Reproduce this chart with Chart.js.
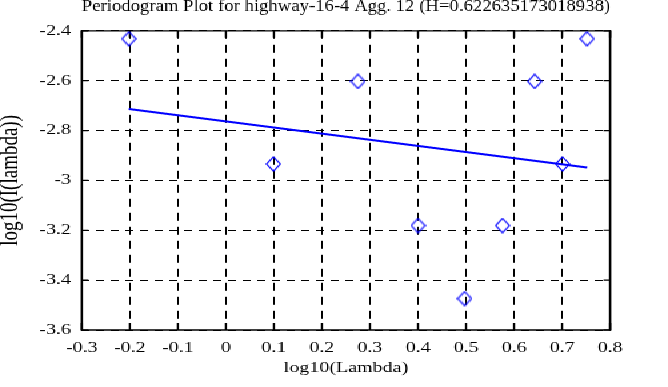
<!DOCTYPE html>
<html>
<head>
<meta charset="utf-8">
<script src="https://cdn.jsdelivr.net/npm/chart.js@4"></script>
<style>
  body { margin: 0; background: #fff; overflow: hidden; }
  /* the reference is a plot stretched sideways, so draw narrow and stretch */
  #wrap { width: 501px; height: 387px; transform: scaleX(1.33333); transform-origin: 0 0; }
  #chart { image-rendering: pixelated; }
</style>
</head>
<body>
<div id="wrap"><canvas id="chart" width="501" height="387"></canvas></div>
<script>
const titleText = 'Periodogram Plot for highway-16-4 Agg. 12 (H=0.622635173018938)'
const xTicks = [-0.3, -0.2, -0.1, 0, 0.1, 0.2, 0.3, 0.4, 0.5, 0.6, 0.7, 0.8]
const yTicks = [-3.6, -3.4, -3.2, -3, -2.8, -2.6, -2.4]

// log10(Lambda) and log10(I(lambda))
const lambdaLog = [-0.202, 0.099, 0.275, 0.400, 0.497, 0.576, 0.643, 0.701, 0.752]
const periodLog = [-2.432, -2.934, -2.603, -3.181, -3.474, -3.181, -2.603, -2.934, -2.432]

// fitted line ends
const fitX = [-0.202, 0.752]
const fitY = [-2.714, -2.948]

const blue = '#0000ff'
const serif = 'Liberation Serif'

// diamond marker, narrow because the canvas gets stretched
const marker = document.createElement('canvas')
marker.width = 12
marker.height = 16
let mctx = marker.getContext('2d')
mctx.strokeStyle = blue
mctx.lineWidth = 1.15
mctx.beginPath()
mctx.moveTo(6, 1)
mctx.lineTo(11.2, 8)
mctx.lineTo(6, 15)
mctx.lineTo(0.8, 8)
mctx.closePath()
mctx.stroke()

// frame and inward tick marks on all four sides
const frame = {
    id: 'frame',
    beforeDatasetsDraw(chart) {
        const { ctx, chartArea: a, scales: { x, y } } = chart
        ctx.save()
        ctx.strokeStyle = '#000'
        ctx.lineWidth = 1.4
        xTicks.forEach(function (v) {
            let px = x.getPixelForValue(v)
            ctx.beginPath()
            ctx.moveTo(px, a.bottom)
            ctx.lineTo(px, a.bottom - 7)
            ctx.moveTo(px, a.top)
            ctx.lineTo(px, a.top + 7)
            ctx.stroke()
        })
        ctx.lineWidth = 1.2
        yTicks.forEach(function (v) {
            let py = y.getPixelForValue(v)
            ctx.beginPath()
            ctx.moveTo(a.left, py)
            ctx.lineTo(a.left + 5, py)
            ctx.moveTo(a.right, py)
            ctx.lineTo(a.right - 5, py)
            ctx.stroke()
        })
        ctx.lineWidth = 1.3
        ctx.beginPath()
        ctx.moveTo(a.left, a.top)
        ctx.lineTo(a.right, a.top)
        ctx.moveTo(a.left, a.bottom)
        ctx.lineTo(a.right, a.bottom)
        ctx.stroke()
        ctx.lineWidth = 1.6
        ctx.beginPath()
        ctx.moveTo(a.left, a.top - 0.65)
        ctx.lineTo(a.left, a.bottom + 0.65)
        ctx.moveTo(a.right, a.top - 0.65)
        ctx.lineTo(a.right, a.bottom + 0.65)
        ctx.stroke()
        ctx.restore()
    }
}

function label(v) {
    return String(Number(v.toFixed(1)))
}

const ctx = document.getElementById('chart').getContext('2d')
let myChart = new Chart(ctx, {
    data: {
        datasets: [{
            type: 'scatter',
            data: lambdaLog.map((v, i) => ({ x: v, y: periodLog[i] })),
            pointStyle: marker,
            pointRadius: 7
        }, {
            type: 'line',
            data: fitX.map((v, i) => ({ x: v, y: fitY[i] })),
            borderColor: blue,
            borderWidth: 2,
            pointRadius: 0,
            fill: false
        }]
    },
    options: {
        responsive: false,
        animation: false,
        devicePixelRatio: 1,
        layout: { padding: { left: 0, right: 43.4, top: 0, bottom: 0 } },
        plugins: {
            legend: { display: false },
            tooltip: { enabled: false },
            title: {
                display: true,
                text: titleText,
                color: '#000',
                fullSize: false,
                font: { family: serif, size: 16, weight: 'normal', lineHeight: 0.8 },
                padding: { top: 0, bottom: 18 }
            }
        },
        scales: {
            x: {
                type: 'linear',
                min: -0.3,
                max: 0.8,
                afterBuildTicks: s => { s.ticks = xTicks.map(v => ({ value: v })) },
                afterFit: s => { s.height = 57 },
                grid: { color: '#000', lineWidth: 1, drawTicks: false },
                border: { display: false, dash: [8, 6] },
                ticks: { color: '#000', padding: 9, font: { family: serif, size: 15 }, callback: label },
                title: {
                    display: true,
                    text: 'log10(Lambda)',
                    color: '#000',
                    font: { family: serif, size: 15 },
                    padding: { top: 0, bottom: 10 }
                }
            },
            y: {
                type: 'linear',
                min: -3.6,
                max: -2.4,
                afterBuildTicks: s => { s.ticks = yTicks.map(v => ({ value: v })) },
                afterFit: s => { s.width = 61.35 },
                grid: { color: '#000', lineWidth: 1, drawTicks: false },
                border: { display: false, dash: [6, 5] },
                ticks: { color: '#000', padding: 8, font: { family: serif, size: 15 }, callback: label },
                title: {
                    display: true,
                    text: 'log10(I(lambda))',
                    color: '#000',
                    font: { family: serif, size: 19, lineHeight: 1 },
                    padding: { top: -1, bottom: 0 }
                }
            }
        }
    },
    plugins: [frame]
});
</script>
</body>
</html>
